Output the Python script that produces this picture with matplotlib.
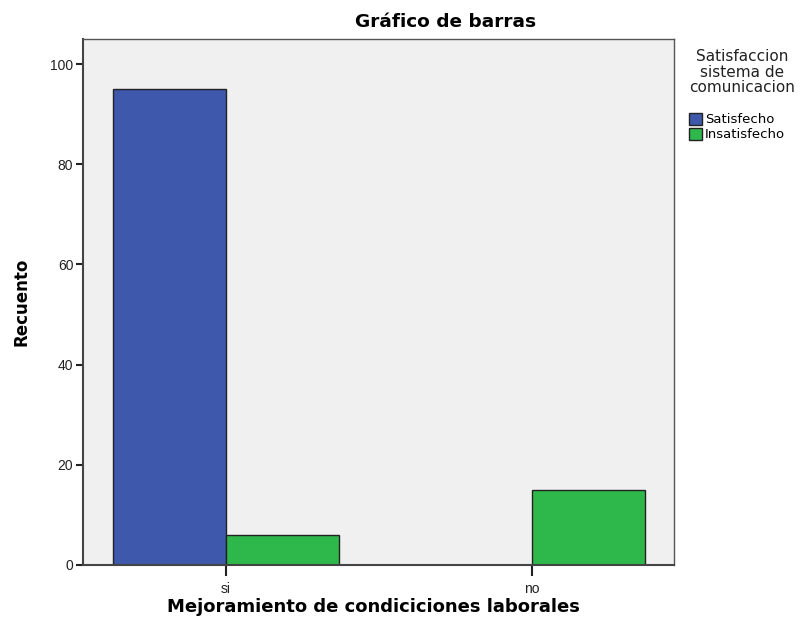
import numpy as np
import matplotlib
matplotlib.use('Agg')
from matplotlib import pyplot as plt
from matplotlib.patches import Patch

# Data
categories = ['si', 'no']
series_names = ['Satisfecho', 'Insatisfecho']
satisfecho = [95, 0]
insatisfecho = [6, 15]
y_ticks = [0, 20, 40, 60, 80, 100]

blue = '#3E58AC'
green = '#2EB84B'

plt.rcParams['font.family'] = ['Liberation Sans', 'DejaVu Sans']

fig = plt.figure(figsize=(8.04, 6.23), dpi=100)
ax = fig.add_axes([0.1032, 0.0931, 0.7351, 0.8443])
ax.set_facecolor('#F0F0F0')

x = np.arange(len(categories))
width = 0.37
ax.bar(x - width / 2, satisfecho, width, color=blue, edgecolor='#222222', linewidth=1.0)
ax.bar(x + width / 2, insatisfecho, width, color=green, edgecolor='#222222', linewidth=1.0)

ax.set_xlim(-0.467, 1.464)
ax.set_ylim(0, 105)
ax.set_yticks(y_ticks)
ax.set_xticks(x)
ax.set_xticklabels(categories)
ax.tick_params(axis='both', labelsize=10, colors='#222222', width=1.5)
ax.tick_params(axis='y', length=5, pad=2)
ax.tick_params(axis='x', length=8, pad=4)

for side in ['left', 'bottom']:
    ax.spines[side].set_color('#444444')
    ax.spines[side].set_linewidth(1.5)
for side in ['top', 'right']:
    ax.spines[side].set_color('#555555')
    ax.spines[side].set_linewidth(1.0)

bold = dict(family='DejaVu Sans', fontweight='bold')
fig.text(373 / 804, 1 - 607 / 623, 'Mejoramiento de condiciciones laborales', fontsize=13,
         ha='center', va='center', **bold)
fig.text(22 / 804, 1 - 302 / 623, 'Recuento', fontsize=12, rotation=90,
         ha='center', va='center', **bold)
fig.text(446 / 804, 1 - 22 / 623, 'Gráfico de barras', fontsize=13.3,
         ha='center', va='center', **bold)

# legend title drawn on its own so the gap to the entries matches
fig.text(742 / 804, 1 - 49 / 623, 'Satisfaccion\nsistema de\ncomunicacion',
         family='DejaVu Sans', fontsize=11, ha='center', va='top',
         multialignment='center', linespacing=1.05, color='#222222')

handles = [Patch(facecolor=blue, edgecolor='#222222'), Patch(facecolor=green, edgecolor='#222222')]
leg = fig.legend(handles, series_names,
                 loc='upper left', bbox_to_anchor=(689 / 804, 1 - 113 / 623), frameon=False,
                 prop={'family': 'DejaVu Sans', 'size': 9.5},
                 handlelength=1.0, handleheight=1.0,
                 handletextpad=0.2, labelspacing=0.1, borderaxespad=0, borderpad=0)

fig.savefig('out.png', dpi=100)
